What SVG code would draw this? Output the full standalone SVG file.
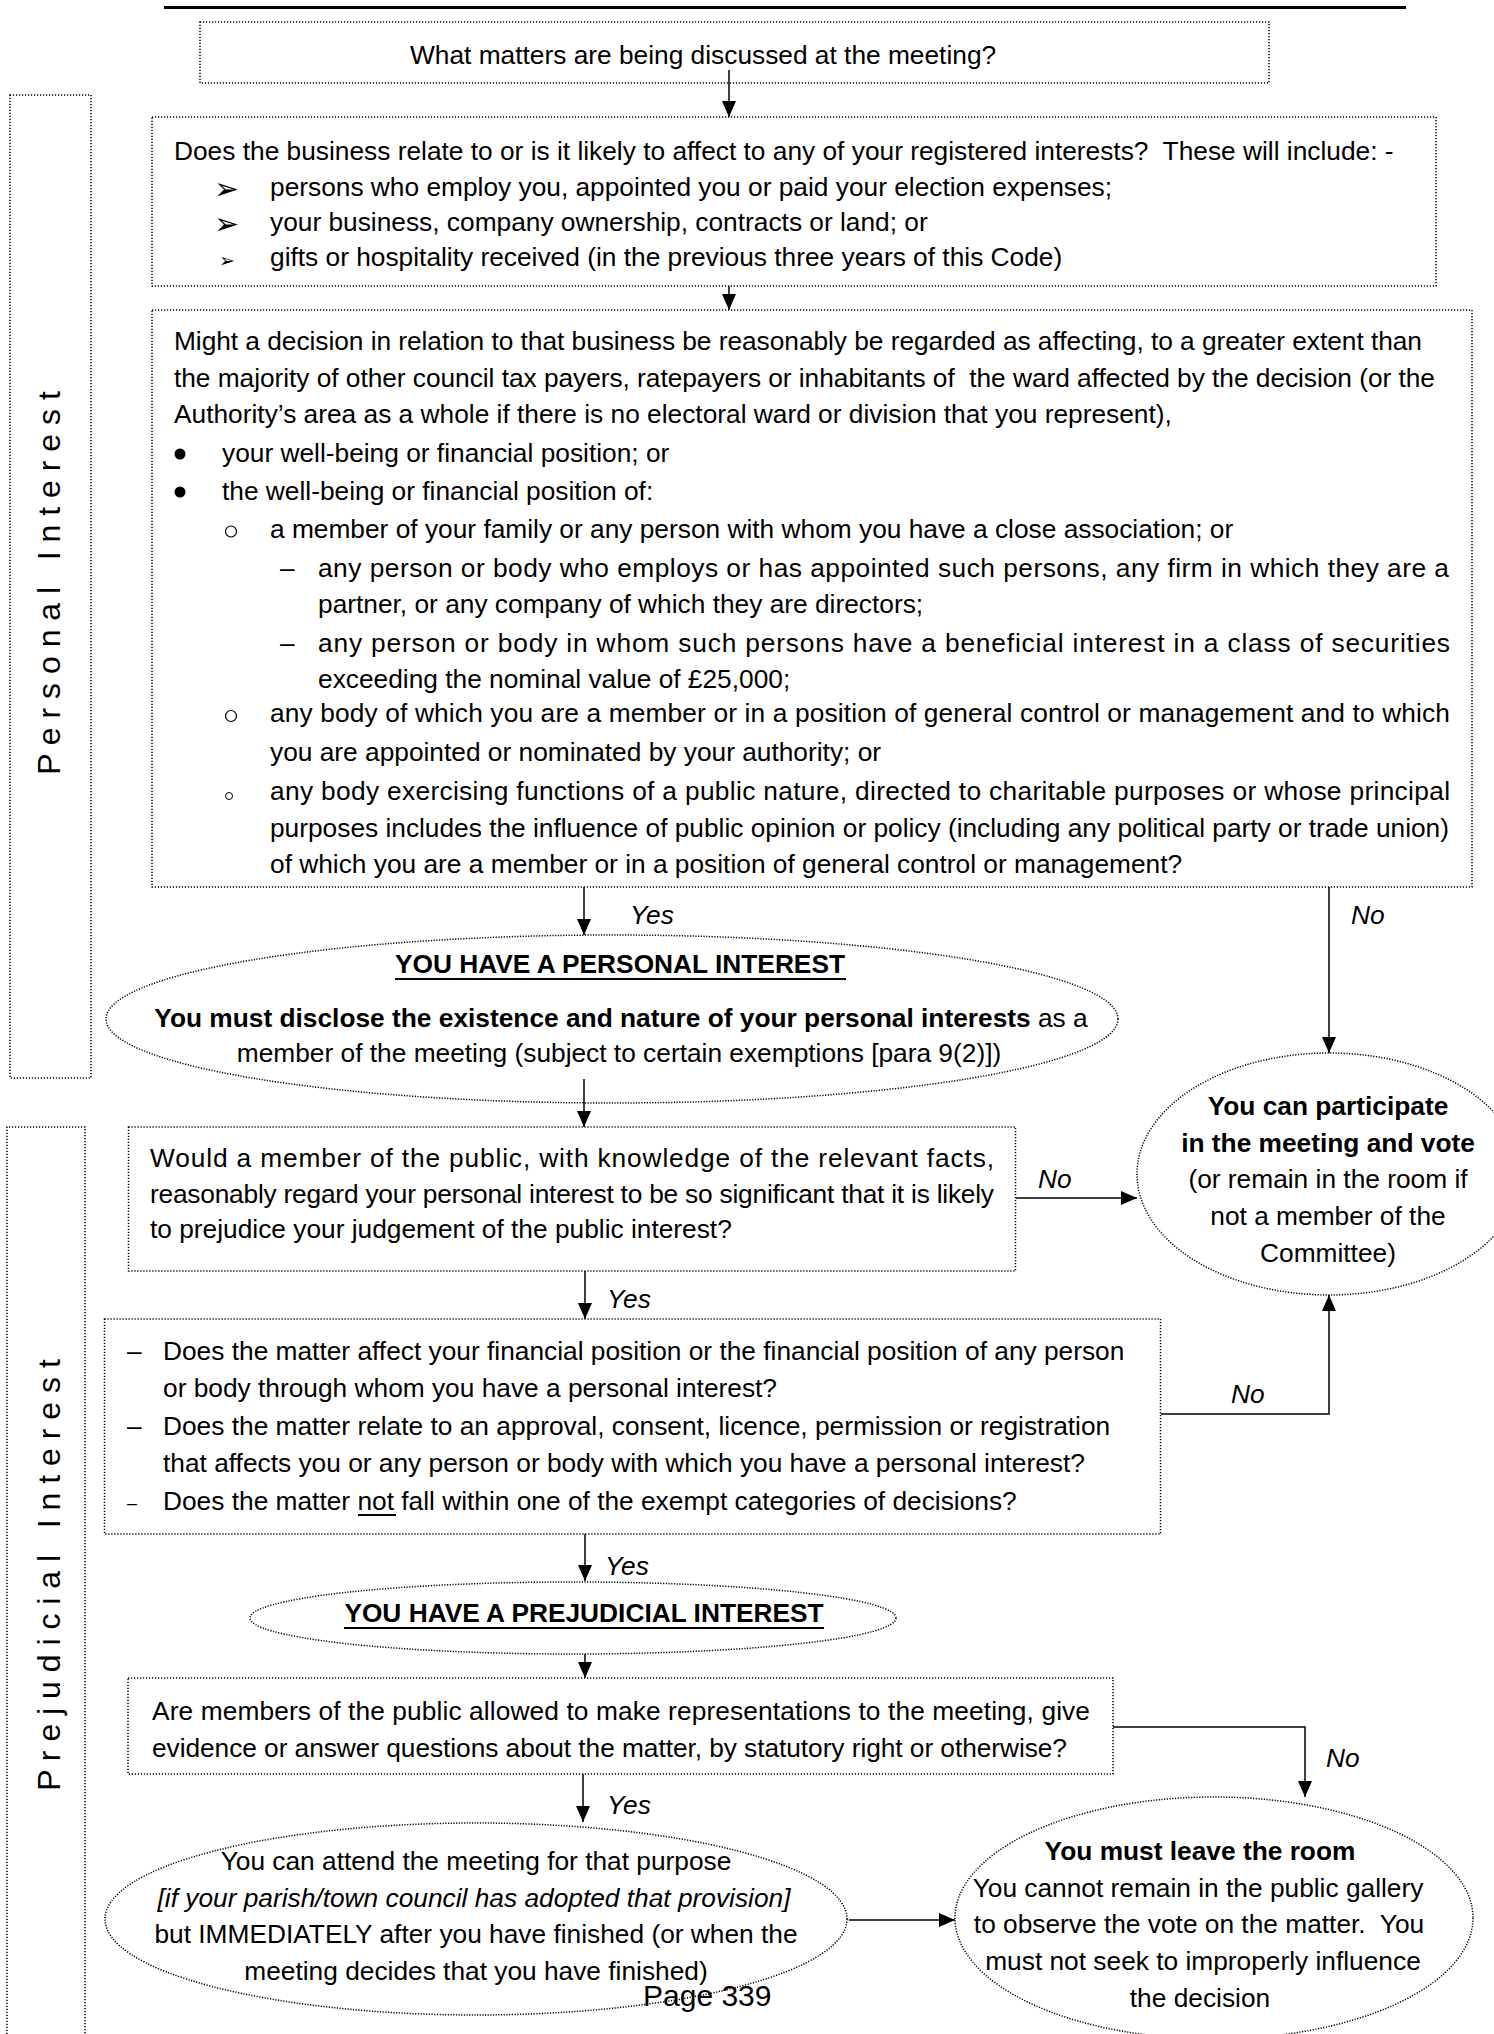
<svg xmlns="http://www.w3.org/2000/svg" width="1494" height="2034" viewBox="0 0 1494 2034">
<style>
text{font-family:"Liberation Sans",Arial,sans-serif;font-size:26.3px;fill:#000}
.b{font-weight:bold}
.i{font-style:italic}
.c{text-anchor:middle}
.box{fill:none;stroke:#000;stroke-width:1.5;stroke-dasharray:1.2 1.8}
.ell{fill:none;stroke:#000;stroke-width:1.5;stroke-dasharray:1.2 1.5}
.ln{stroke:#000;stroke-width:1.5;fill:none}
.sym{font-family:"DejaVu Sans",sans-serif}
.side{font-size:32px}
</style>
<defs>
<marker id="ah" viewBox="0 0 16 14" refX="16" refY="7" markerWidth="16" markerHeight="14" markerUnits="userSpaceOnUse" orient="auto">
<path d="M0,0 L16,7 L0,14 z" fill="#000"/>
</marker>
<clipPath id="clip3"><rect x="152" y="310" width="1320" height="576"/></clipPath>
</defs>
<rect width="1494" height="2034" fill="#fff"/>
<line x1="164" y1="7.5" x2="1406" y2="7.5" stroke="#000" stroke-width="3"/>

<g id="side-personal">
<rect class="box" x="10" y="95" width="81" height="983"/>
<text class="side c" xml:space="preserve" transform="translate(60,583) rotate(-90)">P e r s o n a l   I n t e r e s t</text>
</g>
<g id="side-prejudicial">
<path class="box" d="M7,2040 V1127 H85 V2040"/>
<text class="side c" xml:space="preserve" transform="translate(60,1575) rotate(-90)">P r e j u d i c i a l   I n t e r e s t</text>
</g>

<g id="n1">
<rect class="box" x="200" y="22" width="1069" height="61"/>
<text x="410" y="64">What matters are being discussed at the meeting?</text>
</g>

<g id="n2">
<rect class="box" x="152" y="117" width="1284" height="169"/>
<text x="174" y="160" xml:space="preserve">Does the business relate to or is it likely to affect to any of your registered interests?  These will include: -</text>
<text class="sym" x="214" y="199" style="font-size:30px">➢</text>
<text x="270" y="196">persons who employ you, appointed you or paid your election expenses;</text>
<text class="sym" x="214" y="234" style="font-size:30px">➢</text>
<text x="270" y="231">your business, company ownership, contracts or land; or</text>
<text class="sym" x="219" y="267" style="font-size:19px">➢</text>
<text x="270" y="266">gifts or hospitality received (in the previous three years of this Code)</text>
</g>

<g id="n3">
<rect class="box" x="152" y="310" width="1320" height="577"/>
<text x="174" y="350" textLength="1248" lengthAdjust="spacing">Might a decision in relation to that business be reasonably be regarded as affecting, to a greater extent than</text>
<text x="174" y="387" xml:space="preserve" textLength="1261" lengthAdjust="spacing">the majority of other council tax payers, ratepayers or inhabitants of  the ward affected by the decision (or the</text>
<text x="174" y="423">Authority’s area as a whole if there is no electoral ward or division that you represent),</text>
<circle cx="180" cy="454" r="5.5" fill="#000"/>
<text x="222" y="462">your well-being or financial position; or</text>
<circle cx="180" cy="492" r="5.5" fill="#000"/>
<text x="222" y="500">the well-being or financial position of:</text>
<circle cx="231" cy="531.5" r="5.5" fill="none" stroke="#000" stroke-width="1.2"/>
<text x="270" y="538">a member of your family or any person with whom you have a close association; or</text>
<text x="280" y="577">–</text>
<text x="318" y="577" textLength="1131" lengthAdjust="spacing">any person or body who employs or has appointed such persons, any firm in which they are a</text>
<text x="318" y="613">partner, or any company of which they are directors;</text>
<text x="280" y="652">–</text>
<text x="318" y="652" textLength="1132" lengthAdjust="spacing">any person or body in whom such persons have a beneficial interest in a class of securities</text>
<text x="318" y="688">exceeding the nominal value of £25,000;</text>
<circle cx="231" cy="716" r="5.5" fill="none" stroke="#000" stroke-width="1.2"/>
<text x="270" y="722" textLength="1180" lengthAdjust="spacing">any body of which you are a member or in a position of general control or management and to which</text>
<text x="270" y="761">you are appointed or nominated by your authority; or</text>
<circle cx="229" cy="796" r="3.5" fill="none" stroke="#000" stroke-width="1"/>
<text x="270" y="800" textLength="1180" lengthAdjust="spacing">any body exercising functions of a public nature, directed to charitable purposes or whose principal</text>
<text x="270" y="837" textLength="1179" lengthAdjust="spacing">purposes includes the influence of public opinion or policy (including any political party or trade union)</text>
<text x="270" y="873" clip-path="url(#clip3)">of which you are a member or in a position of general control or management?</text>
</g>

<g id="n4">
<ellipse class="ell" cx="612" cy="1019" rx="506" ry="84"/>
<text class="b c" x="620" y="973">YOU HAVE A PERSONAL INTEREST</text>
<line x1="395" y1="979" x2="846" y2="979" stroke="#000" stroke-width="2.2"/>
<text class="c" x="621" y="1027"><tspan class="b">You must disclose the existence and nature of your personal interests</tspan> as a</text>
<text class="c" x="619" y="1062">member of the meeting (subject to certain exemptions [para 9(2)])</text>
</g>

<g id="n5">
<ellipse class="ell" cx="1329" cy="1174" rx="192" ry="121"/>
<text class="b c" x="1328" y="1115">You can participate</text>
<text class="b c" x="1328" y="1152">in the meeting and vote</text>
<text class="c" x="1328" y="1188">(or remain in the room if</text>
<text class="c" x="1328" y="1225">not a member of the</text>
<text class="c" x="1328" y="1262">Committee)</text>
</g>

<g id="n6">
<rect class="box" x="128.5" y="1127" width="887" height="144"/>
<text x="150" y="1167" textLength="844" lengthAdjust="spacing">Would a member of the public, with knowledge of the relevant facts,</text>
<text x="150" y="1203" textLength="844" lengthAdjust="spacing">reasonably regard your personal interest to be so significant that it is likely</text>
<text x="150" y="1238">to prejudice your judgement of the public interest?</text>
</g>

<g id="n7">
<rect class="box" x="104.5" y="1319" width="1056" height="215"/>
<text x="127" y="1360">–</text>
<text x="163" y="1360">Does the matter affect your financial position or the financial position of any person</text>
<text x="163" y="1397">or body through whom you have a personal interest?</text>
<text x="127" y="1435">–</text>
<text x="163" y="1435">Does the matter relate to an approval, consent, licence, permission or registration</text>
<text x="163" y="1472">that affects you or any person or body with which you have a personal interest?</text>
<text x="127" y="1509" style="font-size:18px">–</text>
<text x="163" y="1510">Does the matter not fall within one of the exempt categories of decisions?</text>
<line x1="358" y1="1515" x2="396" y2="1515" stroke="#000" stroke-width="2"/>
</g>

<g id="n8">
<ellipse class="ell" cx="573" cy="1618" rx="323" ry="36"/>
<text class="b c" x="584" y="1622">YOU HAVE A PREJUDICIAL INTEREST</text>
<line x1="344" y1="1628" x2="824" y2="1628" stroke="#000" stroke-width="2.2"/>
</g>

<g id="n9">
<rect class="box" x="128" y="1678" width="985" height="96"/>
<text x="152" y="1720" textLength="938" lengthAdjust="spacing">Are members of the public allowed to make representations to the meeting, give</text>
<text x="152" y="1757" textLength="915" lengthAdjust="spacing">evidence or answer questions about the matter, by statutory right or otherwise?</text>
</g>

<g id="n10">
<ellipse class="ell" cx="476" cy="1919" rx="371" ry="96"/>
<text class="c" x="476" y="1870">You can attend the meeting for that purpose</text>
<text class="c i" x="474" y="1907">[if your parish/town council has adopted that provision]</text>
<text class="c" x="476" y="1943">but IMMEDIATELY after you have finished (or when the</text>
<text class="c" x="476" y="1980">meeting decides that you have finished)</text>
</g>

<g id="n11">
<ellipse class="ell" cx="1214" cy="1918" rx="259" ry="121"/>
<text class="b c" x="1200" y="1860">You must leave the room</text>
<text class="c" x="1198" y="1897">You cannot remain in the public gallery</text>
<text class="c" x="1199" y="1933" xml:space="preserve">to observe the vote on the matter.  You</text>
<text class="c" x="1203" y="1970">must not seek to improperly influence</text>
<text class="c" x="1200" y="2007">the decision</text>
</g>

<g id="connectors">
<line class="ln" x1="729" y1="70" x2="729" y2="117" marker-end="url(#ah)"/>
<line class="ln" x1="729" y1="286" x2="729" y2="310" marker-end="url(#ah)"/>
<line class="ln" x1="584" y1="887" x2="584" y2="935" marker-end="url(#ah)"/>
<text class="i" x="630" y="924">Yes</text>
<line class="ln" x1="1329" y1="887" x2="1329" y2="1053" marker-end="url(#ah)"/>
<text class="i" x="1351" y="924">No</text>
<line class="ln" x1="584" y1="1079" x2="584" y2="1127" marker-end="url(#ah)"/>
<line class="ln" x1="1016" y1="1198" x2="1137" y2="1198" marker-end="url(#ah)"/>
<text class="i" x="1038" y="1188">No</text>
<line class="ln" x1="585" y1="1271" x2="585" y2="1319" marker-end="url(#ah)"/>
<text class="i" x="607" y="1308">Yes</text>
<path class="ln" d="M1161,1414 H1329 V1295" marker-end="url(#ah)"/>
<text class="i" x="1231" y="1403">No</text>
<line class="ln" x1="585" y1="1534" x2="585" y2="1581" marker-end="url(#ah)"/>
<text class="i" x="605" y="1575">Yes</text>
<line class="ln" x1="585" y1="1654" x2="585" y2="1678" marker-end="url(#ah)"/>
<path class="ln" d="M1113,1727 H1305 V1797" marker-end="url(#ah)"/>
<text class="i" x="1326" y="1767">No</text>
<line class="ln" x1="583" y1="1774" x2="583" y2="1822" marker-end="url(#ah)"/>
<text class="i" x="607" y="1814">Yes</text>
<line class="ln" x1="849" y1="1920" x2="955" y2="1920" marker-end="url(#ah)"/>
</g>

<text x="643" y="2006" style="font-size:30px">Page 339</text>
</svg>
